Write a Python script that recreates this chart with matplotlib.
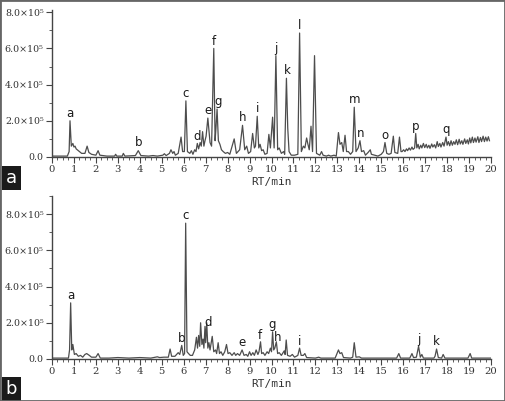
import numpy as np
import matplotlib
matplotlib.use("Agg")
import matplotlib.pyplot as plt
from matplotlib.ticker import MultipleLocator, FixedLocator
from matplotlib.patches import Rectangle

# chromatogram a: retention time (min) and intensity (x1e5), vertices
RT_A = [0.0, 0.7, 0.78, 0.82, 0.88, 0.95, 1.0, 1.05, 1.1, 1.2, 1.35, 1.5, 1.6, 1.68, 1.8, 2.0, 2.1, 2.18,
        2.5, 2.85, 2.9, 2.95, 3.2, 3.25, 3.32, 3.8, 3.93, 4.05, 4.4, 4.6, 4.8, 5.05, 5.12, 5.2, 5.35, 5.42,
        5.5, 5.56, 5.62, 5.75, 5.88, 5.95, 6.03, 6.1, 6.17, 6.28, 6.35, 6.42, 6.5, 6.56, 6.62, 6.68, 6.75,
        6.8, 6.86, 6.92, 6.97, 7.02, 7.1, 7.2, 7.27, 7.37, 7.43, 7.47, 7.52, 7.58, 7.65, 7.72, 7.8, 7.9,
        8.0, 8.1, 8.3, 8.4, 8.55, 8.68, 8.78, 8.87, 8.95, 9.05, 9.14, 9.22, 9.27, 9.35, 9.42, 9.48, 9.55,
        9.62, 9.7, 9.8, 9.88, 9.95, 10.05, 10.12, 10.2, 10.28, 10.35, 10.45, 10.55, 10.6, 10.68, 10.74,
        10.8, 10.9, 11.05, 11.2, 11.28, 11.36, 11.45, 11.52, 11.6, 11.66, 11.72, 11.8, 11.87, 11.96, 12.05,
        12.2, 12.28, 12.35, 12.5, 12.6, 12.7, 12.85, 12.95, 13.05, 13.12, 13.2, 13.27, 13.35, 13.42, 13.5,
        13.6, 13.7, 13.77, 13.85, 13.95, 14.03, 14.1, 14.2, 14.28, 14.4, 14.5, 14.55, 14.7, 14.85, 15.0,
        15.1, 15.17, 15.25, 15.35, 15.45, 15.55, 15.62, 15.75, 15.83, 15.9,
        15.95, 16.02, 16.08, 16.15, 16.2, 16.27, 16.33, 16.4, 16.45, 16.52, 16.57, 16.62, 16.68, 16.73,
        16.8, 16.85, 16.92, 16.98, 17.05, 17.1, 17.17, 17.22, 17.3, 17.35, 17.42, 17.48, 17.55, 17.6,
        17.67, 17.72, 17.8, 17.86, 17.95, 18.0, 18.06, 18.12, 18.18, 18.24, 18.3, 18.36, 18.42, 18.48,
        18.55, 18.6, 18.67, 18.72, 18.8, 18.85, 18.92, 18.97, 19.03, 19.08, 19.15, 19.2, 19.27, 19.32,
        19.4, 19.45, 19.52, 19.57, 19.64, 19.7, 19.76, 19.82, 19.88, 19.93]
INT_A = [0.05, 0.05, 0.3, 2.0, 0.6, 0.75, 0.55, 0.6, 0.45, 0.35, 0.2, 0.2, 0.6, 0.25, 0.15, 0.1, 0.35, 0.1,
         0.05, 0.05, 0.15, 0.05, 0.05, 0.2, 0.05, 0.08, 0.35, 0.08, 0.05, 0.08, 0.05, 0.1, 0.18, 0.08, 0.2, 0.4,
         0.2, 0.3, 0.1, 0.2, 1.1, 0.3, 0.3, 3.1, 0.3, 0.2, 0.35, 0.15, 0.4, 0.3, 0.75, 0.45, 0.8,
         0.6, 1.4, 0.6, 0.9, 1.15, 2.15, 0.8, 0.6, 6.0, 0.9, 1.6, 2.65, 0.9, 0.7, 0.4, 0.3, 0.2,
         0.25, 0.15, 1.0, 0.2, 0.4, 1.75, 0.4, 0.6, 0.2, 0.3, 1.3, 0.5, 0.6, 2.25, 0.5, 0.7, 0.35,
         0.4, 0.15, 0.2, 1.25, 0.5, 2.2, 0.5, 5.6, 0.4, 0.5, 0.2, 0.3, 0.15, 4.35, 1.6,
         0.3, 0.1, 0.1, 0.15, 6.85, 0.3, 0.6, 0.5, 1.05, 0.7, 0.4, 1.7, 0.3, 5.6, 0.2,
         0.1, 0.3, 0.1, 0.05, 0.1, 0.05, 0.1, 0.05, 1.35, 0.7, 0.8, 0.3, 1.2, 0.3, 0.3,
         0.15, 0.3, 2.75, 0.3, 0.5, 0.9, 0.3, 0.35, 0.1, 0.25, 0.4, 0.15, 0.1, 0.05, 0.15,
         0.3, 0.8, 0.2, 0.15, 0.2, 1.15, 0.25, 0.2, 1.1, 0.3,
         0.3, 0.4, 0.3, 0.45, 0.35, 0.5, 0.38, 0.55, 0.42, 0.5, 1.3, 0.5, 0.7, 0.45,
         0.65, 0.5, 0.75, 0.52, 0.7, 0.5, 0.65, 0.48, 0.72, 0.55, 0.68, 0.5, 0.85, 0.58,
         0.75, 0.55, 0.8, 0.6, 1.1, 0.65, 0.85, 0.62, 0.9, 0.65, 0.85, 0.7, 0.95, 0.68,
         0.98, 0.72, 0.9, 0.7, 1.0, 0.75, 0.95, 0.72, 1.05, 0.78, 1.1, 0.8, 1.05, 0.82,
         1.12, 0.8, 1.08, 0.85, 1.15, 0.85, 1.1, 0.88, 1.12, 0.9]

# chromatogram b
RT_B = [0.0, 0.75, 0.8, 0.85, 0.9, 0.95, 1.02, 1.1, 1.2, 1.3, 1.4, 1.5, 1.58, 1.7, 1.8, 2.0, 2.1, 2.2,
        2.6, 3.0, 3.5, 4.0, 4.5, 4.8, 4.9, 5.1, 5.3, 5.38, 5.45, 5.6, 5.75, 5.82, 5.91, 5.98, 6.04, 6.09,
        6.15, 6.22, 6.3, 6.4, 6.5, 6.58, 6.63, 6.68, 6.73, 6.77, 6.83, 6.88, 6.92, 6.97, 7.0, 7.05, 7.1,
        7.15, 7.2, 7.3, 7.37, 7.45, 7.5, 7.57, 7.63, 7.7, 7.78, 7.87, 7.95, 8.02, 8.1, 8.2, 8.3, 8.37,
        8.45, 8.55, 8.66, 8.75, 8.85, 8.92, 9.0, 9.07, 9.15, 9.22, 9.3, 9.38, 9.43, 9.5, 9.55, 9.62, 9.7,
        9.8, 9.87, 9.95, 10.0, 10.05, 10.1, 10.15, 10.22, 10.28, 10.35, 10.45, 10.58, 10.62, 10.67, 10.73,
        10.85, 10.95, 11.05, 11.2, 11.28, 11.35, 11.45, 11.52, 11.6, 12.0, 12.15, 12.25, 12.9, 13.05, 13.12,
        13.2, 13.28, 13.6, 13.7, 13.77, 13.85, 14.0, 14.1, 15.7, 15.8, 15.88, 16.3, 16.4, 16.47, 16.6,
        16.7, 16.78, 16.85, 16.92, 17.4, 17.45, 17.52, 17.6, 17.75, 17.82, 17.9, 18.95, 19.05, 19.12, 20.0]
INT_B = [0.05, 0.05, 0.5, 3.1, 0.5, 0.8, 0.25, 0.3, 0.15, 0.2, 0.1, 0.25, 0.3, 0.2, 0.1, 0.1, 0.3, 0.05,
         0.05, 0.08, 0.05, 0.08, 0.05, 0.12, 0.08, 0.1, 0.1, 0.55, 0.15, 0.15, 0.35, 0.25, 0.75, 0.2, 0.3, 7.5,
         0.4, 0.3, 0.2, 0.2, 0.5, 1.2, 0.6, 1.3, 0.7, 2.0, 0.8, 1.1, 0.6, 1.8, 0.9, 2.0, 0.6,
         0.9, 0.5, 1.25, 0.4, 0.5, 0.3, 0.9, 0.3, 0.4, 0.2, 0.4, 0.8, 0.3, 0.35, 0.2, 0.35, 0.2,
         0.3, 0.2, 0.5, 0.2, 0.25, 0.15, 0.4, 0.2, 0.35, 0.2, 0.5, 0.25, 0.4, 0.95, 0.3, 0.35, 0.2,
         0.4, 0.3, 0.6, 0.4, 1.5, 0.5, 0.6, 0.95, 0.3, 0.35, 0.2, 0.45, 0.25, 1.05, 0.2,
         0.15, 0.25, 0.1, 0.2, 0.6, 0.2, 0.2, 0.3, 0.08, 0.05, 0.1, 0.05, 0.05, 0.5, 0.3,
         0.35, 0.08, 0.05, 0.1, 0.9, 0.1, 0.12, 0.05, 0.05, 0.3, 0.05, 0.05, 0.3, 0.08, 0.1,
         0.7, 0.1, 0.25, 0.05, 0.05, 0.15, 0.55, 0.08, 0.05, 0.25, 0.05, 0.05, 0.3, 0.05, 0.05]

# peak letters: name, rt, label height (x1e5)
LAB_A = ["a", "b", "c", "d", "e", "f", "g", "h", "i", "j", "k", "l", "m", "n", "o", "p", "q"]
LAB_A_RT = [0.82, 3.95, 6.1, 6.6, 7.1, 7.37, 7.56, 8.7, 9.35, 10.2, 10.7, 11.28, 13.77, 14.05, 15.17, 16.57, 17.95]
LAB_A_Y = [2.05, 0.45, 3.15, 0.8, 2.2, 6.05, 2.7, 1.8, 2.3, 5.65, 4.4, 6.9, 2.8, 0.95, 0.85, 1.35, 1.15]

LAB_B = ["a", "b", "c", "d", "e", "f", "g", "h", "i", "j", "k"]
LAB_B_RT = [0.85, 5.91, 6.1, 7.12, 8.66, 9.48, 10.05, 10.28, 11.28, 16.72, 17.52]
LAB_B_Y = [3.15, 0.8, 7.55, 1.65, 0.55, 0.95, 1.55, 0.85, 0.6, 0.72, 0.6]

W, H = 505, 401
fig = plt.figure(figsize=(W / 100, H / 100), dpi=100)
fig.patch.set_facecolor("white")

GRAY = "#4d4d4d"
TXT = "#333333"
SERIF = "DejaVu Serif"


def yfmt(v):
    if v == 0:
        return "0.0"
    return "%.1f×10⁵" % v


def panel(rect, rt, inten, labs, lrt, ly, ytop, yticks, tag, tag_y):
    ax = fig.add_axes(rect)
    ax.plot(rt, np.array(inten) * 1e5, color=GRAY, lw=0.9)
    for s, x, y in zip(labs, lrt, ly):
        ax.text(x, y * 1e5, s, ha="center", va="bottom", fontsize=8.5,
                color="#1a1a1a", family="DejaVu Sans")
    ax.set_xlim(0, 20)
    ax.set_ylim(0, ytop)
    for sp in ["top", "right"]:
        ax.spines[sp].set_visible(False)
    for sp in ["left", "bottom"]:
        ax.spines[sp].set_color("#444444")
        ax.spines[sp].set_linewidth(1.0)
    ax.xaxis.set_major_locator(MultipleLocator(1))
    ax.xaxis.set_minor_locator(MultipleLocator(0.25))
    ax.yaxis.set_major_locator(FixedLocator([t * 1e5 for t in yticks]))
    ax.yaxis.set_minor_locator(MultipleLocator(1e5))
    ax.set_yticklabels([yfmt(t) for t in yticks], family=SERIF, fontsize=6.8, color=TXT)
    ax.set_xticks(range(21))
    ax.set_xticklabels([str(i) for i in range(21)], family=SERIF, fontsize=7.2, color=TXT)
    ax.tick_params(which="major", length=4, width=0.8, color="#444444", pad=2)
    ax.tick_params(which="minor", length=2, width=0.6, color="#444444")
    ax.set_xlabel("RT/min", family="DejaVu Sans Mono", fontsize=8, color=TXT, labelpad=2)
    ax.patch.set_alpha(0)
    # black tag box with panel letter
    fig.patches.append(Rectangle((2 / W, tag_y), 19 / W, 24 / H, transform=fig.transFigure,
                                 facecolor="#1a1a1a", edgecolor="none"))
    fig.text(11.5 / W, tag_y + 12 / H, tag, ha="center", va="center", color="white",
             fontsize=13, family="DejaVu Sans")
    return ax


panel([52 / W, 1 - 157 / H, 439 / W, (157 - 10.4) / H], RT_A, INT_A, LAB_A, LAB_A_RT, LAB_A_Y,
      8.1e5, [0, 2, 4, 6, 8], "a", 1 - 190 / H)
panel([52 / W, 1 - 359 / H, 439 / W, (359 - 196) / H], RT_B, INT_B, LAB_B, LAB_B_RT, LAB_B_Y,
      9.0e5, [0, 2, 4, 6, 8], "b", 1 - 401 / H)

# frame around the whole figure
fig.patches.append(Rectangle((0, 0), 1, 1, transform=fig.transFigure, fill=False,
                             edgecolor="#666666", lw=2))

fig.savefig("out.png", dpi=100)
